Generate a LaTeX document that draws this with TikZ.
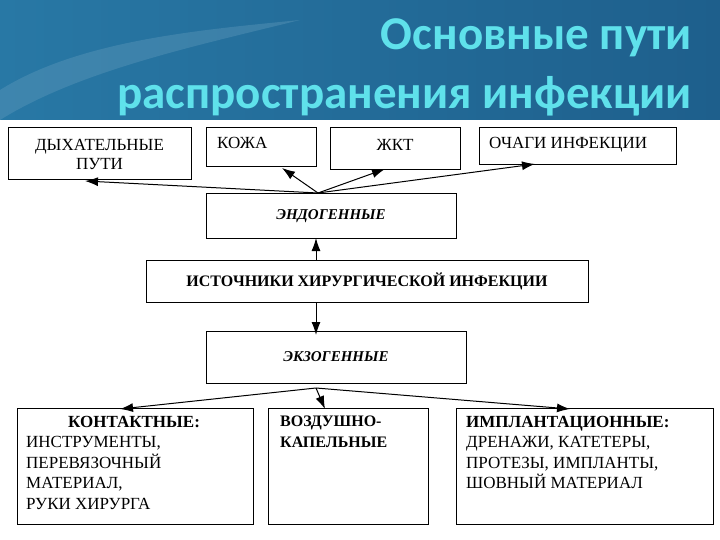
\documentclass[tikz,border=0pt]{standalone}
\usepackage{fontspec}
\setmainfont{Liberation Serif}
\newfontfamily\ttl{Carlito}
\usetikzlibrary{arrows.meta}
\definecolor{hdrA}{RGB}{30,95,140}
\definecolor{hdrB}{RGB}{40,120,165}
\definecolor{ttlc}{RGB}{95,225,235}
\begin{document}
\begin{tikzpicture}[x=1pt,y=-1pt,
  bx/.style={draw=black,line width=1pt,inner sep=0pt},
  ar/.style={-{Latex[length=13pt,width=9pt]},line width=1pt},
  tx/.style={font=\fontsize{17}{20.5}\selectfont,align=left,anchor=north west,inner sep=0pt}]
\useasboundingbox (0,0) rectangle (720,540);
\fill[white] (0,0) rectangle (720,540);
\shade[left color=hdrB,right color=hdrA] (0,0) rectangle (720,120);
\fill[hdrB!70!white,opacity=0.35] (0,90) .. controls (80,40) and (200,30) .. (300,20) .. controls (200,45) and (80,70) .. (0,120) -- cycle;
\node[anchor=east,text=ttlc,font=\ttl\bfseries\fontsize{47}{50}\selectfont,inner sep=0pt] (t1) at (692,38) {Основные пути};
\node[anchor=east,text=ttlc,font=\ttl\bfseries\fontsize{47}{50}\selectfont,inner sep=0pt] (t2) at (692,96) {распространения инфекции};
% boxes
\node[bx,minimum width=183,minimum height=52] (dyh) at (99.5,154) {};
\node[font=\fontsize{17}{19}\selectfont,align=center] at (dyh) {ДЫХАТЕЛЬНЫЕ\\ПУТИ};
\node[bx,minimum width=110,minimum height=39] (koj) at (261,147.5) {};
\node[tx] at (217,137) {КОЖА};
\node[bx,minimum width=130,minimum height=42] (jkt) at (395,149) {};
\node[font=\fontsize{17}{19}\selectfont] at (395,145) {ЖКТ};
\node[bx,minimum width=197,minimum height=37] (och) at (577.5,146.5) {};
\node[tx] at (489,137) {ОЧАГИ ИНФЕКЦИИ};
\node[bx,minimum width=250,minimum height=44,font=\bfseries\itshape\fontsize{15}{17}\selectfont] (endo) at (331,216) {ЭНДОГЕННЫЕ};
\node[bx,minimum width=442,minimum height=42,font=\bfseries\fontsize{16}{18}\selectfont] (ist) at (367,281) {ИСТОЧНИКИ ХИРУРГИЧЕСКОЙ ИНФЕКЦИИ};
\node[bx,minimum width=260,minimum height=52,font=\bfseries\itshape\fontsize{15}{17}\selectfont] (exo) at (336,357) {ЭКЗОГЕННЫЕ};
\node[bx,minimum width=236,minimum height=116] (kon) at (135,466) {};
\node[tx] at (26,416) {\hspace*{42pt}\textbf{КОНТАКТНЫЕ:}\\ИНСТРУМЕНТЫ,\\ПЕРЕВЯЗОЧНЫЙ\\МАТЕРИАЛ,\\РУКИ ХИРУРГА};
\node[bx,minimum width=160,minimum height=116] (voz) at (348,466) {};
\node[tx,font=\bfseries\fontsize{16}{20.5}\selectfont] at (280,416) {ВОЗДУШНО-\\КАПЕЛЬНЫЕ};
\node[bx,minimum width=257,minimum height=116] (imp) at (584.5,466) {};
\node[tx] at (466,416) {\textbf{ИМПЛАНТАЦИОННЫЕ:}\\ДРЕНАЖИ, КАТЕТЕРЫ,\\ПРОТЕЗЫ, ИМПЛАНТЫ,\\ШОВНЫЙ МАТЕРИАЛ};
% arrows
\coordinate (eo) at (318,193);
\draw[ar] (eo) -- (85,181);
\draw[ar] (eo) -- (282,168);
\draw[ar] (eo) -- (385,169);
\draw[ar] (eo) -- (535,164);
\draw[ar] (316,260) -- (316,238);
\draw[ar] (316,302) -- (316,335);
\coordinate (xo) at (316,388);
\draw[ar] (xo) -- (120,409);
\draw[ar] (xo) -- (325,409);
\draw[ar] (xo) -- (570,409);
\end{tikzpicture}
\end{document}
